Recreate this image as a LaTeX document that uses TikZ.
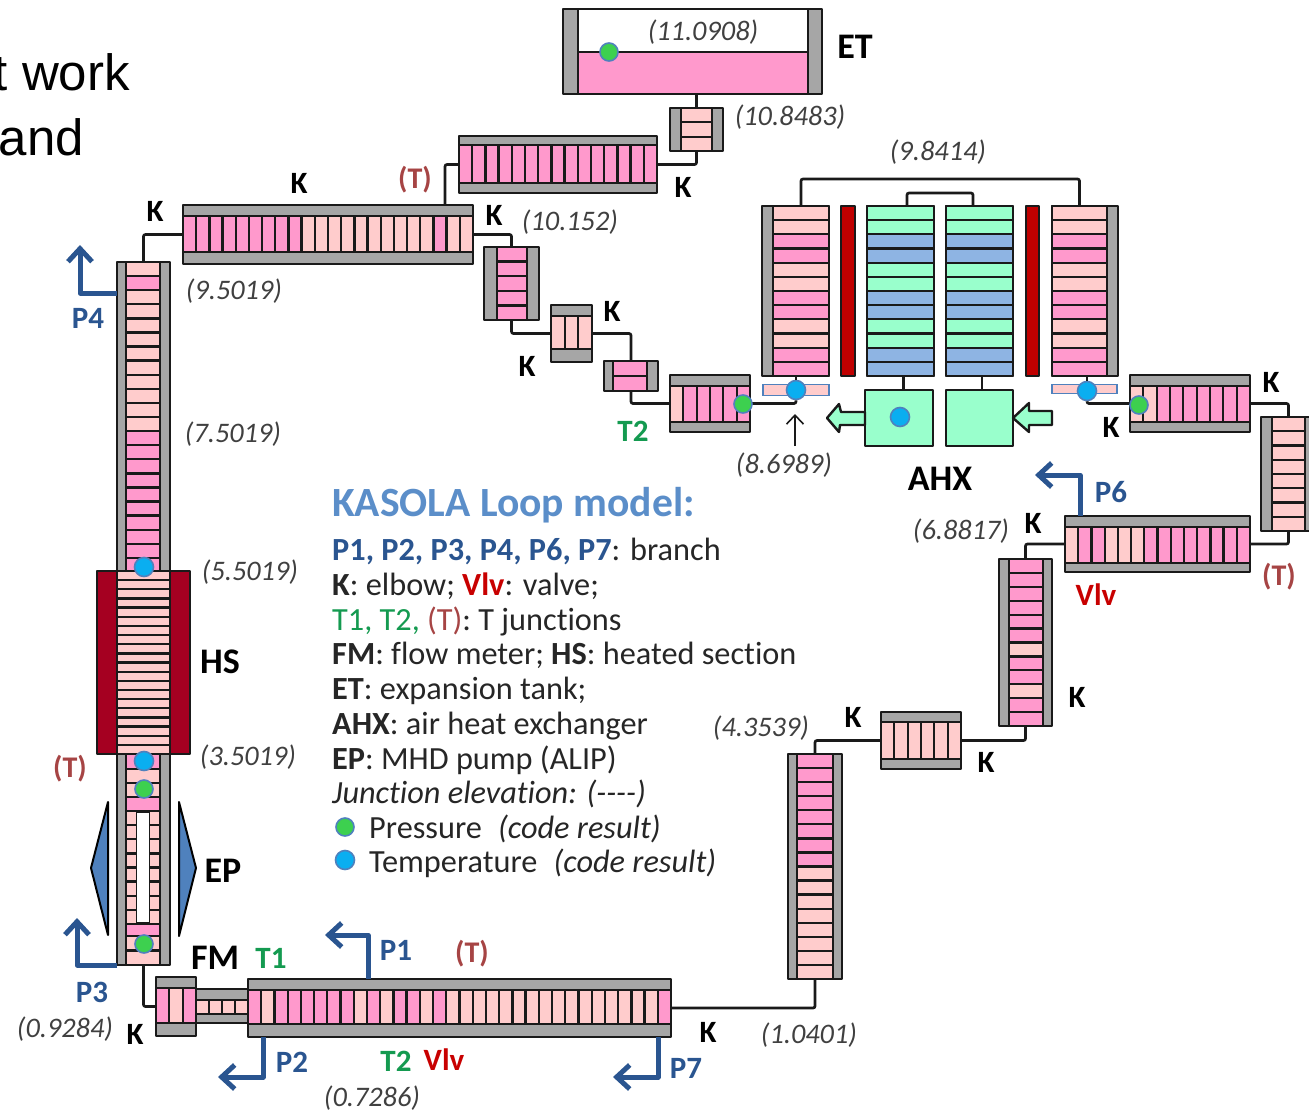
\documentclass[tikz,border=0pt]{standalone}
\usepackage{fontspec}
\setmainfont{Carlito}[Ligatures=NoCommon]
\newfontfamily\arialfont{Liberation Sans}
\usetikzlibrary{arrows.meta,calc}
\definecolor{cP}{HTML}{FF99CC}
\definecolor{cL}{HTML}{FFCCCC}
\definecolor{cG}{HTML}{99FFCC}
\definecolor{cB}{HTML}{8EB4E3}
\definecolor{cGray}{HTML}{A6A6A6}
\definecolor{cHeat}{HTML}{A50021}
\definecolor{cRed}{HTML}{C00000}
\definecolor{cPump}{HTML}{4F81BD}
\definecolor{cBranch}{HTML}{2A5590}
\definecolor{cTitle}{HTML}{5B8EC9}
\definecolor{cTj}{HTML}{A64444}
\definecolor{cVlv}{HTML}{C80000}
\definecolor{cGrn}{HTML}{149A50}
\definecolor{cElev}{HTML}{404040}
\definecolor{cLine}{HTML}{1A1A1A}
\definecolor{cDotG}{HTML}{3DD04F}
\definecolor{cDotB}{HTML}{0AAEF0}
\newcount\pipeN
\newcount\pipeK
\tikzset{
  boxout/.style={draw=cLine,line width=2.4pt,fill=cGray,rectangle,inner sep=0pt,outer sep=0pt,line join=round},
  cellbox/.style={draw=cLine,line width=2.3pt,line join=round},
  hidden/.style={rectangle,inner sep=0pt,outer sep=0pt},
  conn/.style={draw=cLine,line width=2.7pt,rounded corners=2pt},
  branch/.style={draw=cBranch,line width=5pt,line join=round,-{Straight Barb[length=13pt,width=24pt]}},
  dotg/.style={circle,draw=cPump,line width=1.6pt,fill=cDotG,minimum size=18pt,inner sep=0pt},
  dotb/.style={circle,draw=cPump,line width=1.6pt,fill=cDotB,minimum size=19pt,inner sep=0pt},
  elev/.style={text=cElev,font=\fontsize{28.3}{30}\selectfont\itshape,inner sep=0pt,yshift=-1pt},
  klab/.style={text=black,font=\fontsize{31}{32}\selectfont\bfseries,inner sep=0pt},
  biglab/.style={text=black,font=\fontsize{36}{38}\selectfont\bfseries,inner sep=0pt},
  plab/.style={text=cBranch,font=\fontsize{31}{32}\selectfont\bfseries,inner sep=0pt,yshift=-1pt},
  tlab/.style={text=cGrn,font=\fontsize{31}{32}\selectfont\bfseries,inner sep=0pt},
  tjlab/.style={text=cTj,font=\fontsize{30}{32}\selectfont\bfseries,inner sep=0pt,yshift=-2pt},
  vlab/.style={text=cVlv,font=\fontsize{31}{32}\selectfont\bfseries,inner sep=0pt},
  legend/.style={anchor=base west,text=black!85,font=\fontsize{32.3}{34}\selectfont,inner sep=0pt},
  headtxt/.style={anchor=base east,text=black,font=\arialfont\fontsize{51}{52}\selectfont,inner sep=0pt},
  blockarrow/.style={draw=cLine,line width=2.4pt,fill=cG,line join=round},
}
% #1 name, #2-#5 box, #6 top bar, #7 bottom bar, #8 runs count/colour
\newcommand\hpipe[8]{%
  \pgfmathsetmacro\pw{#4-(#2)}\pgfmathsetmacro\ph{#5-(#3)}%
  \node[boxout,minimum width=\pw pt,minimum height=\ph pt] (#1) at ({(#2+#4)/2},{(#3+#5)/2}) {};%
  \pgfmathsetmacro\py{#3+#6}\pgfmathsetmacro\pz{#5-#7}%
  \pgfmathsetmacro\pch{\pz-\py}%
  \node[hidden,minimum width=\pw pt,minimum height=\pch pt] (#1c) at ({(#2+#4)/2},{(\py+\pz)/2}) {};%
  \global\pipeN=0 \global\pipeK=0
  \foreach \rr/\cc in {#8}{\global\advance\pipeN by \rr}%
  \foreach \rr/\cc in {#8}{\foreach \jj in {1,...,\rr}{%
    \pgfmathsetmacro\xa{#2+(#4-(#2))*\the\pipeK/\the\pipeN}%
    \global\advance\pipeK by 1
    \pgfmathsetmacro\xb{#2+(#4-(#2))*\the\pipeK/\the\pipeN}%
    \draw[cellbox,fill=\cc] (\xa,\py) rectangle (\xb,\pz);%
  }}%
}
% #1 name, #2-#5 box, #6 left bar, #7 right bar, #8 runs
\newcommand\vpipe[8]{%
  \pgfmathsetmacro\pw{#4-(#2)}\pgfmathsetmacro\ph{#5-(#3)}%
  \node[boxout,minimum width=\pw pt,minimum height=\ph pt] (#1) at ({(#2+#4)/2},{(#3+#5)/2}) {};%
  \pgfmathsetmacro\py{#2+#6}\pgfmathsetmacro\pz{#4-#7}%
  \pgfmathsetmacro\pcw{\pz-\py}%
  \node[hidden,minimum width=\pcw pt,minimum height=\ph pt] (#1c) at ({(\py+\pz)/2},{(#3+#5)/2}) {};%
  \global\pipeN=0 \global\pipeK=0
  \foreach \rr/\cc in {#8}{\global\advance\pipeN by \rr}%
  \foreach \rr/\cc in {#8}{\foreach \jj in {1,...,\rr}{%
    \pgfmathsetmacro\xa{#3+(#5-(#3))*\the\pipeK/\the\pipeN}%
    \global\advance\pipeK by 1
    \pgfmathsetmacro\xb{#3+(#5-(#3))*\the\pipeK/\the\pipeN}%
    \draw[cellbox,fill=\cc] (\py,\xa) rectangle (\pz,\xb);%
  }}%
}
\begin{document}
\begin{tikzpicture}[x=1pt,y=-1pt]
\useasboundingbox (0,0) rectangle (1309,1111);
\clip (0,0) rectangle (1309,1111);
% heading fragment
\node[headtxt] (head1) at (130,90) {t work};
\node[headtxt] (head2) at (84,155) {and};
% expansion tank
\node[boxout,minimum width=259pt,minimum height=85pt] (et) at (692.5,51.5) {};
\draw[cellbox,fill=white] (578,9) rectangle (808,52);
\draw[cellbox,fill=cP] (578,52) rectangle (808,94);
% piping
\vpipe{s1}{670}{108}{723}{151}{11}{11}{3/cL}
\hpipe{h2}{459}{136}{657}{193}{9}{10}{15/cP}
\hpipe{top}{183}{205}{473}{264}{11}{12}{9/cP,10/cL,1/cP,2/cL}
\vpipe{lv}{117}{262}{170}{572}{9}{10}{1/cL,1/cP,10/cL,10/cP}
\vpipe{b1}{484}{247}{539}{320}{13}{12}{5/cP}
\hpipe{b2}{551}{305}{592}{362}{11}{13}{3/cL}
\vpipe{b3}{604}{361}{658}{391}{9}{11}{2/cP}
\hpipe{t2}{670}{375}{750}{432}{11}{10}{1/cL,5/cP}
% AHX
\vpipe{lp}{762}{206}{829}{376}{11}{0}{2/cL,2/cP,2/cL,2/cP,2/cL,2/cP}
\node[boxout,fill=cRed,minimum width=14pt,minimum height=170pt] (rb1) at (848,291) {};
\vpipe{g1}{867}{206}{934}{376}{0}{0}{2/cG,2/cB,2/cG,2/cB,2/cG,2/cB}
\vpipe{g2}{946}{206}{1013}{376}{0}{0}{2/cG,2/cB,2/cG,2/cB,2/cG,2/cB}
\node[boxout,fill=cRed,minimum width=13pt,minimum height=170pt] (rb2) at (1032.5,291) {};
\vpipe{rp}{1052}{206}{1118}{376}{0}{11}{2/cL,2/cP,2/cL,2/cP,2/cL,2/cP}
\node[hidden,draw=cPump,line width=1.5pt,fill=cL,minimum width=66pt,minimum height=11pt] (tb1) at (796,390) {};
\node[hidden,draw=cPump,line width=1.5pt,fill=cL,minimum width=65pt,minimum height=9pt] (tb2) at (1084.5,389) {};
\node[boxout,fill=cG,minimum width=68pt,minimum height=56pt] (box1) at (899,418) {};
\node[boxout,fill=cG,minimum width=67pt,minimum height=56pt] (box2) at (979.5,418) {};
\draw[blockarrow] (box1.west) ++(0,-6) -- ++(-24,0) -- (839,404) -- (827,418) -- (839,432) -- (840,425) -- (865,425) -- cycle;
\draw[blockarrow] (box2.east) -- (1029,403) -- (1029,411) -- (1052,411) -- (1052,425) -- (1029,425) -- (1029,432) -- cycle;
% return leg
\hpipe{ain}{1130}{375}{1250}{432}{11}{10}{2/cL,7/cP}
\vpipe{rv}{1261}{417}{1316}{531}{11}{11}{8/cL}
\hpipe{v6}{1065}{516}{1250}{572}{11}{9}{1/cL,2/cP,3/cL,8/cP}
\vpipe{v5}{999}{559}{1052}{726}{10}{9}{6/cP,1/cL,2/cP,1/cL,2/cP}
\hpipe{h4}{881}{712}{961}{769}{10}{10}{6/cL}
\vpipe{v3}{788}{754}{842}{979}{9}{9}{8/cP,8/cL}
\hpipe{main}{248}{979}{671}{1037}{11}{13}{1/cP,1/cL,6/cP,1/cL,1/cP,1/cL,2/cP,1/cL,1/cP,16/cL,1/cP}
\hpipe{narrow}{196}{989}{248}{1023}{11}{9}{4/cL}
\hpipe{fm}{156}{977}{196}{1036}{11}{13}{1/cP,1/cL,1/cP}
% heated section
\node[boxout,fill=cHeat,minimum width=93pt,minimum height=183pt] (hs) at (143.5,662.5) {};
\vpipe{hsc}{117}{571}{170}{754}{0}{0}{20/cL}
% pump section
\node[boxout,minimum width=53pt,minimum height=211pt] (ep) at (143.5,859.5) {};
\vpipe{e1}{126}{754}{160}{769}{0}{0}{1/cP}
\vpipe{e2}{126}{769}{160}{797}{0}{0}{2/cL}
\vpipe{e3}{126}{797}{160}{811}{0}{0}{1/cP}
\vpipe{e4}{126}{811}{160}{924}{0}{0}{8/cL}
\node[hidden,draw=cLine,line width=1.8pt,fill=white,minimum width=13pt,minimum height=110pt] (epcore) at (143,867.5) {};
\vpipe{e5}{126}{924}{160}{936}{0}{0}{1/cP}
\vpipe{e6}{126}{936}{160}{965}{0}{0}{2/cL}
\draw[draw=black,line width=2pt,fill=cPump,line join=round] (108,802) -- (91,868) -- (108,935) -- cycle;
\draw[draw=black,line width=2pt,fill=cPump,line join=round] (179,802) -- (196,868) -- (179,936) -- cycle;
% connectors
\coordinate (tj) at (445,205);
\draw[conn] (s1.north) -- (s1.north |- et.south);
\draw[conn] (s1.south) |- (h2.east);
\draw[conn] (h2.west) -| (tj);
\draw[conn] (top.west) -| (lv.north);
\draw[conn] (top.east) -| (b1.north);
\draw[conn] (b1.south) |- (b2.west);
\draw[conn] (b2.east) -| (b3.north);
\draw[conn] (b3.south) |- (t2.west);
\draw[conn] (lpc.north) -- ++(0,-27) -| (rpc.north);
\draw[conn] ([xshift=6.5pt]g1.north) -- ++(0,-13) -| ([xshift=-6.5pt]g2.north);
\draw[conn] ([xshift=3pt]g1.south) -- ([xshift=3pt]g1.south |- box1.north);
\draw[conn] ([xshift=2.5pt]g2.south) -- ([xshift=2.5pt]g2.south |- box2.north);
\draw[conn] (ain.east) -| (rvc.north);
\draw[conn] (rvc.south) |- (v6.east);
\draw[conn] (v6.west) -| (v5.north);
\draw[conn] (v5.south) |- (h4.east);
\draw[conn] (h4.west) -| (v3.north);
\draw[conn] (v3.south) |- (main.east);
\draw[conn] (ep.south) |- (fm.west);
% dots on the outlets
\node[dotb] (dl) at (796,390) {};
\node[dotb] (dr) at (1087,391) {};
\draw[conn] (t2.east) -| (dl.south);
\draw[conn] (lp.south -| dl) -- (dl.north);
\draw[conn] (rp.south -| dr) -- (dr.north);
\draw[conn] (ain.west) -| (dr.south);
% measuring points
\node[dotg] (dp1) at (609,52) {};
\node[dotg] (dp2) at (743,404) {};
\node[dotg] (dp3) at (1139,405) {};
\node[dotb] (dt1) at (144,567) {};
\node[dotb] (dt2) at (144,761) {};
\node[dotg] (dp4) at (144,789) {};
\node[dotg] (dp5) at (144,944) {};
\node[dotb] (dt3) at (900,417) {};
% branches
\coordinate (p1s) at (368,979);\coordinate (p1c) at (368,935);\coordinate (p1e) at (325,935);
\coordinate (p2s) at (263,1037);\coordinate (p2c) at (263,1077);\coordinate (p2e) at (218,1077);
\coordinate (p3s) at (117,965);\coordinate (p3c) at (77,965);\coordinate (p3e) at (77,918);
\coordinate (p4s) at (117,293);\coordinate (p4c) at (80,293);\coordinate (p4e) at (80,245);
\coordinate (p6s) at (1080,516);\coordinate (p6c) at (1080,475);\coordinate (p6e) at (1035,475);
\coordinate (p7s) at (658,1037);\coordinate (p7c) at (658,1077);\coordinate (p7e) at (613,1077);
\draw[branch] (p1s) -- (p1c) -- (p1e);
\draw[branch] (p2s) -- (p2c) -- (p2e);
\draw[branch] (p3s) -- (p3c) -- (p3e);
\draw[branch] (p4s) -- (p4c) -- (p4e);
\draw[branch] (p6s) -- (p6c) -- (p6e);
\draw[branch] (p7s) -- (p7c) -- (p7e);
% elevation pointer
\coordinate (ptail) at (795,446);\coordinate (ptip) at (795,414);
\draw[draw=cLine,line width=1.6pt,-{Straight Barb[length=9pt,width=17pt]}] (ptail) -- (ptip);
% elevations
\node[elev] (e01) at (703,31) {(11.0908)};
\node[elev] (e02) at (790,116) {(10.8483)};
\node[elev] (e03) at (570,221) {(10.152)};
\node[elev] (e04) at (938,151) {(9.8414)};
\node[elev] (e05) at (234,290) {(9.5019)};
\node[elev] (e06) at (233,433) {(7.5019)};
\node[elev] (e07) at (250,571) {(5.5019)};
\node[elev] (e08) at (248,756) {(3.5019)};
\node[elev] (e09) at (784,464) {(8.6989)};
\node[elev] (e10) at (961,530) {(6.8817)};
\node[elev] (e11) at (761,727) {(4.3539)};
\node[elev] (e12) at (809,1034) {(1.0401)};
\node[elev] (e13) at (372,1097) {(0.7286)};
\node[elev] (e14) at (65,1028) {(0.9284)};
% K labels
\node[klab] (k01) at (683,187) {K};
\node[klab] (k02) at (299,183) {K};
\node[klab] (k03) at (155,211) {K};
\node[klab] (k04) at (494,215) {K};
\node[klab] (k05) at (612,311) {K};
\node[klab] (k06) at (527,366) {K};
\node[klab] (k07) at (1271,382) {K};
\node[klab] (k08) at (1111,427) {K};
\node[klab] (k09) at (1033,523) {K};
\node[klab] (k10) at (1077,697) {K};
\node[klab] (k11) at (853,717) {K};
\node[klab] (k12) at (986,762) {K};
\node[klab] (k13) at (708,1032) {K};
\node[klab] (k14) at (135,1034) {K};
% names
\node[biglab] (lET) at (855,47) {ET};
\node[biglab] (lHS) at (220,662) {HS};
\node[biglab] (lEP) at (223,871) {EP};
\node[biglab] (lFM) at (215,958) {FM};
\node[biglab] (lAHX) at (940,479) {AHX};
\node[plab] (lP1) at (396,949) {P1};
\node[plab] (lP2) at (292,1061) {P2};
\node[plab] (lP3) at (92,991) {P3};
\node[plab] (lP4) at (88,317) {P4};
\node[plab] (lP6) at (1111,491) {P6};
\node[plab] (lP7) at (686,1067) {P7};
\node[tlab] (lT1) at (271,958) {T1};
\node[tlab] (lT2a) at (633,431) {T2};
\node[tlab] (lT2b) at (396,1061) {T2};
\node[vlab] (lV1) at (444,1060) {Vlv};
\node[vlab] (lV2) at (1096,595) {Vlv};
\node[tjlab] (lTa) at (415,178) {(T)};
\node[tjlab] (lTb) at (1279,575) {(T)};
\node[tjlab] (lTc) at (70,767) {(T)};
\node[tjlab] (lTd) at (472,952) {(T)};
% legend
\node[legend,text=cTitle,font=\fontsize{41.6}{43}\selectfont\bfseries] (g0) at (332,516) {KASOLA Loop model:};
\node[legend] (g1t) at (332,560) {\textcolor{cBranch}{\bfseries P1, P2, P3, P4, P6, P7}: branch};
\node[legend] (g2t) at (332,595) {\textbf{K}: elbow; \textcolor{cVlv}{\bfseries Vlv}: valve;};
\node[legend] (g3t) at (332,630) {\textcolor{cGrn}{T1, T2,} \textcolor{cTj}{(T)}: T junctions};
\node[legend] (g4t) at (332,664) {\textbf{FM}: flow meter; \textbf{HS}: heated section};
\node[legend] (g5t) at (332,699) {\textbf{ET}: expansion tank;};
\node[legend] (g6t) at (332,734) {\textbf{AHX}: air heat exchanger};
\node[legend] (g7t) at (332,769) {\textbf{EP}: MHD pump (ALIP)};
\node[legend] (g8t) at (332,803) {\itshape Junction elevation: ({-}{-}{-}{-})};
\node[dotg] (g9d) at (345,827) {};
\node[legend] (g9t) at (369,838) {Pressure\enspace\textit{(code result)}};
\node[dotb] (g10d) at (345,860) {};
\node[legend] (g10t) at (369,872) {Temperature\enspace\textit{(code result)}};
\end{tikzpicture}
\end{document}
